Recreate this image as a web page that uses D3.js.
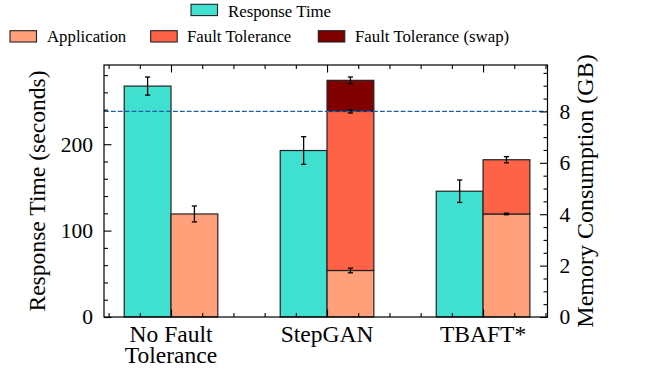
<!DOCTYPE html>
<html>
<head>
<meta charset="utf-8">
<script src="https://cdn.jsdelivr.net/npm/d3@7/dist/d3.min.js"></script>
<style>
  html, body { margin: 0; padding: 0; background: #fff; }
  svg text { font-family: "Liberation Serif", "Times New Roman", serif !important; fill: #000; }
</style>
</head>
<body>
<script>
// ---------------- data ----------------
const categories = [["No Fault", "Tolerance"], ["StepGAN"], ["TBAFT*"]];
const responseTime = [267.3, 192.7, 145.6];      // seconds (left axis)
const responseErr  = [10.5, 16.0, 13.0];
const application  = [4.01, 1.81, 4.01];        // GB (right axis)
const applicationErr = [0.31, 0.09, 0.03];
const faultTolerance = [0, 6.19, 2.11];
const faultToleranceErr = [0, 0.06, 0.12];
const faultToleranceSwap = [0, 1.21, 0];
const faultToleranceSwapErr = [0, 0.13, 0];
const memoryLimit = 8;                           // GB, dashed line
const leftMajorTicks = [0, 100, 200];
const leftMinorStep = 20;
const rightMajorTicks = [0, 2, 4, 6, 8];
const rightMinorStep = 0.5;
const legendRow1 = ["Response Time"];
const legendRow2 = ["Application", "Fault Tolerance", "Fault Tolerance (swap)"];

// ---------------- styles ----------------
const FONT = '"Liberation Serif", "Times New Roman", serif';
const colors = {
  response: "#40E0D0",
  application: "#FFA07A",
  ft: "#FF6347",
  swap: "#800000"
};
const W = 654, H = 372;
const plot = { left: 104, right: 547.5, top: 65, bottom: 317 };
const barW = 0.3;

const svg = d3.select("body").append("svg").attr("width", W).attr("height", H)
  .attr("font-family", FONT);

const x = d3.scaleLinear().domain([-0.4295, 2.413]).range([plot.left, plot.right]);
const leftMax = d3.max(responseTime.map((v, i) => v + responseErr[i])) * 1.05;
const memTop = application.map((a, i) => {
  const tot = a + faultTolerance[i] + faultToleranceSwap[i];
  const err = faultToleranceSwap[i] ? faultToleranceSwapErr[i] : (faultTolerance[i] ? faultToleranceErr[i] : applicationErr[i]);
  return tot + err;
});
const rightMax = d3.max(memTop) * 1.05;
const yL = d3.scaleLinear().domain([0, leftMax]).range([plot.bottom, plot.top]);
const yR = d3.scaleLinear().domain([0, rightMax]).range([plot.bottom, plot.top]);

const edge = "#222";
const lw = 1.2;

// ---------------- bars ----------------
const gBars = svg.append("g");
gBars.selectAll("rect.resp").data(responseTime).join("rect")
  .attr("x", (d, i) => x(i - barW))
  .attr("width", (d, i) => x(i) - x(i - barW))
  .attr("y", d => yL(d))
  .attr("height", d => yL(0) - yL(d))
  .attr("fill", colors.response).attr("stroke", edge).attr("stroke-width", lw);

const stacks = categories.map((c, i) => {
  const segs = [];
  let base = 0;
  [[application, applicationErr, colors.application],
   [faultTolerance, faultToleranceErr, colors.ft],
   [faultToleranceSwap, faultToleranceSwapErr, colors.swap]].forEach(([vals, errs, col]) => {
    const v = vals[i];
    if (v > 0) {
      segs.push({ i, y0: base, y1: base + v, err: errs[i], color: col });
      base += v;
    }
  });
  return segs;
}).flat();

gBars.selectAll("rect.mem").data(stacks).join("rect")
  .attr("x", d => x(d.i))
  .attr("width", d => x(d.i + barW) - x(d.i))
  .attr("y", d => yR(d.y1))
  .attr("height", d => yR(d.y0) - yR(d.y1))
  .attr("fill", d => d.color).attr("stroke", edge).attr("stroke-width", lw);

// ---------------- error bars ----------------
const gErr = svg.append("g").attr("stroke", "#000").attr("stroke-width", 1.3);
const cap = 2.6;
function errBar(cx, yTop, yBot) {
  gErr.append("line").attr("x1", cx).attr("x2", cx).attr("y1", yTop).attr("y2", yBot);
  gErr.append("line").attr("x1", cx - cap).attr("x2", cx + cap).attr("y1", yTop).attr("y2", yTop);
  gErr.append("line").attr("x1", cx - cap).attr("x2", cx + cap).attr("y1", yBot).attr("y2", yBot);
}
responseTime.forEach((v, i) => {
  errBar(x(i - barW / 2), yL(v + responseErr[i]), yL(v - responseErr[i]));
});
stacks.forEach(s => {
  errBar(x(s.i + barW / 2), yR(s.y1 + s.err), yR(s.y1 - s.err));
});

// ---------------- memory limit dashed line ----------------
svg.append("line")
  .attr("x1", plot.left).attr("x2", plot.right)
  .attr("y1", yR(memoryLimit)).attr("y2", yR(memoryLimit))
  .attr("stroke", "#1F5FA8").attr("stroke-width", 1.3)
  .attr("stroke-dasharray", "4.8,2.1");

// ---------------- axes ----------------
const majLen = 7.5, minLen = 4;
function styleAxis(g) {
  g.select(".domain").remove();
  g.attr("font-family", FONT);
  g.selectAll(".tick line").attr("stroke", "#000").attr("stroke-width", 1.1);
  g.selectAll("text").attr("font-family", FONT).style("font-size", "21.5px").attr("fill", "#000");
}

const xMinor = d3.range(-2, 13).map(d => d / 5).filter(d => Math.abs(d - Math.round(d)) > 1e-9);
const xMajor = categories.map((c, i) => i);

[[plot.bottom, d3.axisBottom], [plot.top, d3.axisTop]].forEach(([yy, fn]) => {
  svg.append("g").attr("transform", `translate(0,${yy})`)
    .call(fn(x).tickValues(xMajor).tickSize(-majLen).tickFormat(""))
    .call(styleAxis);
  svg.append("g").attr("transform", `translate(0,${yy})`)
    .call(fn(x).tickValues(xMinor).tickSize(-minLen).tickFormat(""))
    .call(styleAxis);
});

const leftMinor = d3.range(0, leftMax, leftMinorStep).filter(v => !leftMajorTicks.includes(v));
svg.append("g").attr("transform", `translate(${plot.left},0)`)
  .call(d3.axisLeft(yL).tickValues(leftMajorTicks).tickSize(-majLen).tickPadding(11).tickFormat(d3.format("d")))
  .call(styleAxis);
svg.append("g").attr("transform", `translate(${plot.left},0)`)
  .call(d3.axisLeft(yL).tickValues(leftMinor).tickSize(-minLen).tickFormat(""))
  .call(styleAxis);

const rightMinor = d3.range(0, rightMax, rightMinorStep).filter(v => !rightMajorTicks.includes(v));
svg.append("g").attr("transform", `translate(${plot.right},0)`)
  .call(d3.axisRight(yR).tickValues(rightMajorTicks).tickSize(-majLen).tickPadding(12).tickFormat(d3.format("d")))
  .call(styleAxis);
svg.append("g").attr("transform", `translate(${plot.right},0)`)
  .call(d3.axisRight(yR).tickValues(rightMinor).tickSize(-minLen).tickFormat(""))
  .call(styleAxis);

svg.append("rect")
  .attr("x", plot.left).attr("y", plot.top)
  .attr("width", plot.right - plot.left).attr("height", plot.bottom - plot.top)
  .attr("fill", "none").attr("stroke", "#000").attr("stroke-width", 1.2);

// category labels
const catG = svg.append("g");
categories.forEach((lines, i) => {
  const t = catG.append("text")
    .attr("text-anchor", "middle")
    .attr("font-family", FONT)
    .style("font-size", "23.5px")
    .attr("x", x(i)).attr("y", 341.5);
  lines.forEach((ln, k) => {
    t.append("tspan").attr("x", x(i)).attr("dy", k === 0 ? 0 : 21.8).text(ln);
  });
});

// axis titles
svg.append("text")
  .attr("transform", `translate(45,${(plot.top + plot.bottom) / 2}) rotate(-90)`)
  .attr("text-anchor", "middle").attr("font-family", FONT).style("font-size", "23.6px")
  .text("Response Time (seconds)");
svg.append("text")
  .attr("transform", `translate(593,${(plot.top + plot.bottom) / 2}) rotate(-90)`)
  .attr("text-anchor", "middle").attr("font-family", FONT).style("font-size", "24px")
  .text("Memory Consumption (GB)");

// ---------------- legend ----------------
const lg = svg.append("g");
const legendItems = [
  { label: legendRow1[0], color: colors.response, px: 191, py: 4.3, tx: 228, ty: 16.5 },
  { label: legendRow2[0], color: colors.application, px: 10, py: 30.7, tx: 47, ty: 41.8 },
  { label: legendRow2[1], color: colors.ft, px: 150.7, py: 30.7, tx: 187, ty: 41.8 },
  { label: legendRow2[2], color: colors.swap, px: 318.3, py: 30.7, tx: 355, ty: 41.8 }
];
legendItems.forEach(it => {
  lg.append("rect").attr("x", it.px).attr("y", it.py).attr("width", 26.5).attr("height", 11.3)
    .attr("fill", it.color).attr("stroke", edge).attr("stroke-width", 1.1);
  lg.append("text").attr("x", it.tx).attr("y", it.ty).attr("font-family", FONT)
    .style("font-size", "16.8px").text(it.label);
});
</script>
</body>
</html>
